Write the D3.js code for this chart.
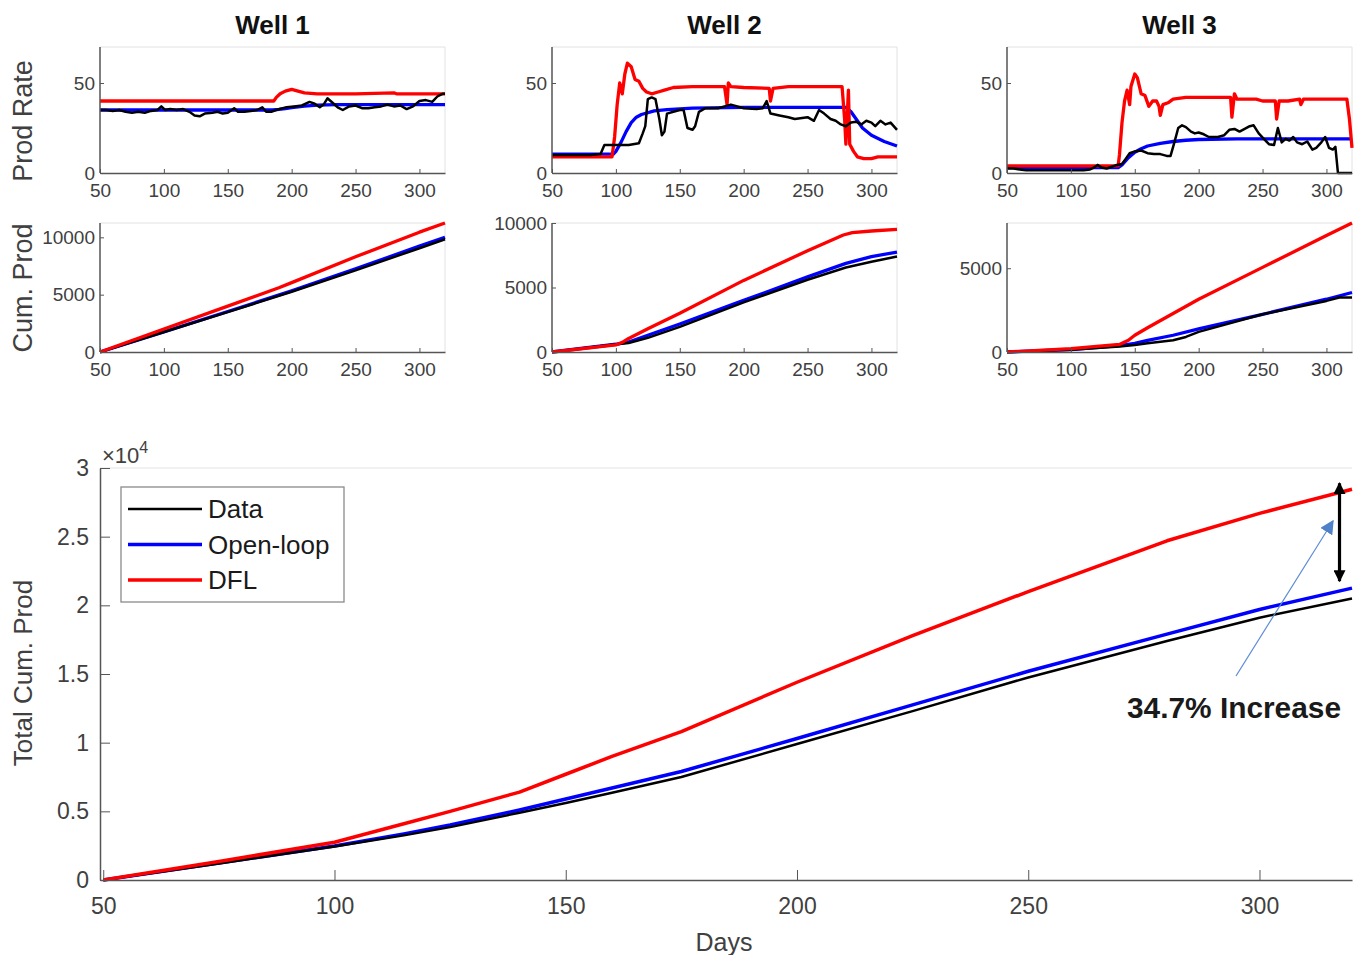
<!DOCTYPE html>
<html>
<head>
<meta charset="utf-8">
<script src="https://cdn.jsdelivr.net/npm/d3@7"></script>
<style>
  body { margin: 0; background: #fff; }
  text { font-family: "Liberation Sans", Arial, sans-serif; }
</style>
</head>
<body>
<svg id="chart" width="1356" height="955"></svg>
<script>
// ---- data ----
const wellNames = ['Well 1', 'Well 2', 'Well 3'];
const seriesNames = ['Data', 'Open-loop', 'DFL'];
const seriesColors = ['#000000', '#0000ff', '#ff0000'];
const dayTicks = [50, 100, 150, 200, 250, 300];
const rateTicks = [0, 50];
const cumTicks = [[0, 5000, 10000], [0, 5000, 10000], [0, 5000]];
const cumMax = [11250, 10000, 7700];
const totalTicks = [0, 5000, 10000, 15000, 20000, 25000, 30000];

// production rate, [day, rate]
const w1RateData = [[50,35],[55,35],[60,34.5],[65,35],[70,34],[75,33.5],[80,34],[85,33.5],[90,34.5],[95,35],[98,37],[101,35],[105,35.5],[110,35],[115,35.5],[120,34],[124,32],[128,31.5],[132,33],[138,33.5],[142,34],[146,33],[150,33.5],[155,36],[158,34],[163,34],[168,34.5],[173,35],[177,36.5],[180,34],[184,34],[190,35.5],[196,36.5],[202,37],[208,37.5],[214,39.5],[218,38.5],[222,36.5],[225,38],[228,41.5],[232,39],[236,36.5],[240,35],[245,37],[250,37.5],[255,36],[260,36],[265,36.5],[270,37],[275,38],[280,37],[285,37.5],[290,35.5],[295,37],[300,40],[305,40.5],[310,39.5],[314,42.5],[318,44],[320,44]];
const w1RateOpen = [[50,35],[185,35],[190,35.3],[195,35.8],[200,36.3],[210,37.2],[220,37.7],[235,38],[320,38]];
const w1RateDfl = [[50,40],[186,40],[188,42],[191,44],[195,45.5],[200,46.5],[205,45.5],[210,44.5],[220,44],[250,44],[280,44.5],[282,44],[320,44]];

const w2RateData = [[50,10],[60,10],[70,10],[80,10],[88,10.5],[91,15.5],[100,15.5],[110,15.5],[118,16.5],[121,22],[123,26],[125,41],[128,42],[131,41],[134,30],[136,21],[138,23],[140,33],[145,34],[150,35],[153,35],[156,25],[160,24],[162,26],[165,34],[170,36],[180,36],[185,37],[190,38],[195,37],[200,36],[210,35.5],[215,36],[218,40],[221,33],[228,32],[235,31],[240,30],[250,31],[255,29],[259,35],[263,33],[268,30],[272,29],[276,27],[280,26],[284,28],[288,28.5],[292,27],[296,29],[300,28],[303,26],[307,29],[311,27],[315,28],[320,24]];
const w2RateOpen = [[50,10.5],[98,10.5],[100,12],[104,17],[108,23],[112,28],[116,31],[120,32.5],[130,34.5],[140,35.2],[160,36],[200,36.5],[280,36.5],[284,34],[288,30],[293,25],[300,21],[310,17.5],[320,15]];
const w2RateDfl = [[50,9],[97,9],[99,20],[101,38],[103,50],[105,44],[107,55],[109,61],[112,59],[115,52],[118,51],[121,47],[124,45],[128,44],[133,45],[138,46],[145,47.5],[160,48],[185,48],[187,38],[188,50],[190,48],[200,47.5],[220,47],[221,40],[223,47],[235,48],[260,48],[277,48],[279,30],[280,16],[282,46],[283,16],[286,12],[289,9],[294,8],[300,8],[305,9],[320,9]];

const w3RateData = [[50,2.5],[55,2.5],[60,2],[65,1.5],[80,1.5],[100,1.5],[110,1.5],[115,2],[118,3],[121,4.5],[124,3],[128,2.5],[132,3.5],[136,4.5],[140,5],[143,8],[146,11],[150,12],[155,12.5],[160,11],[165,10.5],[170,10.5],[175,9.5],[178,9.5],[181,17],[184,25],[187,26.5],[190,25.5],[194,23],[197,22],[200,22.5],[204,21.5],[208,20],[215,20],[220,21],[224,24],[228,24.5],[232,23],[236,24.5],[240,26],[243,26.5],[247,22],[251,19],[255,16],[259,15.5],[262,25],[265,17],[268,19],[271,18],[274,20],[277,17],[281,16],[285,17.5],[289,13],[292,14],[296,17],[299,20],[302,14],[305,13],[307,14.5],[309,0],[320,0]];
const w3RateOpen = [[50,3],[137,3],[140,4.5],[145,8.5],[150,11.5],[155,13.5],[160,15],[170,16.5],[180,17.5],[190,18.2],[200,18.6],[230,19],[320,19]];
const w3RateDfl = [[50,4],[137,4],[138,10],[140,28],[142,40],[144,46],[146,38],[147,48],[150,55],[152,53],[155,44],[158,43],[161,37],[164,40],[167,40],[169,37],[170,32],[172,38],[176,39],[180,41],[190,42],[225,42],[226,31],[228,44],[230,41],[245,41],[250,40],[260,40],[261,30],[263,40],[270,40],[279,41],[280,38],[282,41],[316,41],[318,30],[320,14]];

// cumulative production per well, [day, value]
const w1CumData = [[50,0],[100,1740],[150,3480],[200,5250],[250,7120],[300,9050],[320,9830]];
const w1CumOpen = [[50,0],[100,1760],[150,3530],[200,5330],[250,7250],[300,9230],[320,10000]];
const w1CumDfl = [[50,0],[100,2000],[150,4000],[190,5600],[200,6050],[250,8300],[300,10450],[320,11250]];

const w2CumData = [[50,0],[100,600],[110,700],[125,1100],[150,1950],[200,3850],[250,5600],[280,6550],[300,7000],[320,7400]];
const w2CumOpen = [[50,0],[100,600],[110,780],[125,1300],[150,2170],[200,4000],[250,5820],[280,6870],[300,7400],[320,7750]];
const w2CumDfl = [[50,0],[100,550],[105,750],[110,1050],[125,1800],[150,3000],[200,5550],[250,7850],[278,9070],[285,9250],[300,9380],[320,9500]];

const w3CumData = [[50,0],[100,130],[138,330],[150,420],[160,520],[180,700],[190,900],[200,1200],[250,2250],[300,3050],[310,3250],[320,3250]];
const w3CumOpen = [[50,0],[100,150],[138,380],[150,520],[160,700],[180,1000],[200,1380],[250,2250],[300,3150],[320,3550]];
const w3CumDfl = [[50,0],[100,200],[138,450],[145,700],[150,1000],[160,1450],[200,3150],[250,5050],[300,6950],[320,7700]];

// total cumulative production, [day, value]
const totalData = [[50,0],[75,1200],[100,2440],[115,3250],[125,3850],[140,4900],[150,5600],[160,6350],[175,7500],[200,9900],[225,12300],[250,14750],[280,17400],[300,19100],[320,20500]];
const totalOpen = [[50,0],[75,1230],[100,2480],[115,3350],[125,4000],[140,5100],[150,5900],[160,6700],[175,7900],[200,10300],[225,12750],[250,15200],[280,17900],[300,19700],[320,21250]];
const totalDfl = [[50,0],[75,1350],[100,2750],[115,4100],[125,5000],[140,6400],[150,7700],[160,9000],[175,10800],[200,14400],[225,17800],[250,21000],[280,24700],[300,26700],[320,28450]];

const rates = [[w1RateData, w1RateOpen, w1RateDfl], [w2RateData, w2RateOpen, w2RateDfl], [w3RateData, w3RateOpen, w3RateDfl]];
const cums = [[w1CumData, w1CumOpen, w1CumDfl], [w2CumData, w2CumOpen, w2CumDfl], [w3CumData, w3CumOpen, w3CumDfl]];
const totals = [totalData, totalOpen, totalDfl];

// ---- layout ----
const svg = d3.select('#chart');
const axisColor = '#555';
const labelColor = '#404040';
const panelLeft = [100, 552, 1007];
const panelWidth = 345;
const rateBox = { top: 47, bottom: 173 };
const cumBox = { top: 223, bottom: 352 };

// draws one small panel (rate or cum)
function smallPanel(i, box, yDomain, yTicks, series, order) {
  const x = d3.scaleLinear().domain([50, 320]).range([panelLeft[i], panelLeft[i] + panelWidth]);
  const y = d3.scaleLinear().domain(yDomain).range([box.bottom, box.top]);
  const g = svg.append('g');

  // light top/right frame
  g.append('path')
   .attr('d', `M${x.range()[0]},${box.top}H${x.range()[1]}V${box.bottom}`)
   .attr('fill', 'none').attr('stroke', '#e2e2e2').attr('stroke-width', 1);

  const line = d3.line().x(d => x(d[0])).y(d => y(d[1]));
  order.forEach(k => {
    g.append('path')
     .datum(series[k])
     .attr('d', line)
     .attr('fill', 'none')
     .attr('stroke', seriesColors[k])
     .attr('stroke-width', k === 0 ? 2.5 : 3.3)
     .attr('stroke-linejoin', 'round');
  });

  const xAxis = g.append('g')
    .attr('transform', `translate(0,${box.bottom})`)
    .call(d3.axisBottom(x).tickValues(dayTicks).tickSize(-4).tickPadding(11).tickSizeOuter(0));
  const yAxis = g.append('g')
    .attr('transform', `translate(${panelLeft[i]},0)`)
    .call(d3.axisLeft(y).tickValues(yTicks).tickSize(-4).tickPadding(5).tickSizeOuter(0)
          .tickFormat(d3.format('d')));

  [xAxis, yAxis].forEach(a => {
    a.select('.domain').attr('stroke', axisColor).attr('stroke-width', 1.5);
    a.selectAll('.tick line').attr('stroke', axisColor);
    a.selectAll('.tick text').attr('fill', labelColor).attr('font-size', 19)
     .attr('font-family', '"Liberation Sans", Arial, sans-serif');
  });
  // extend y axis line to the box top
  yAxis.select('.domain').attr('d', `M0,${box.top}V${box.bottom}`);
}

wellNames.forEach((name, i) => {
  svg.append('text')
     .attr('x', panelLeft[i] + panelWidth / 2)
     .attr('y', 34)
     .attr('text-anchor', 'middle')
     .attr('font-size', 26)
     .attr('font-weight', 'bold')
     .attr('fill', '#111')
     .text(name);

  smallPanel(i, rateBox, [0, 70], rateTicks, rates[i], [1, 2, 0]);
  smallPanel(i, cumBox, [0, cumMax[i]], cumTicks[i], cums[i], [1, 0, 2]);
});

// y labels of the top rows
[['Prod Rate', 121], ['Cum. Prod', 288]].forEach(([t, cy]) => {
  svg.append('text')
     .attr('transform', `translate(32,${cy}) rotate(-90)`)
     .attr('text-anchor', 'middle')
     .attr('font-size', 27)
     .attr('fill', labelColor)
     .text(t);
});

// ---- bottom chart ----
const bx = d3.scaleLinear().domain([49.3, 320]).range([100, 1352]);
const by = d3.scaleLinear().domain([0, 30000]).range([880, 468]);
const bg = svg.append('g');

bg.append('path')
  .attr('d', `M100,468H1352`)
  .attr('stroke', '#e2e2e2').attr('stroke-width', 1);

const bLine = d3.line().x(d => bx(d[0])).y(d => by(d[1]));
[1, 0, 2].forEach(k => {
  bg.append('path')
    .datum(totals[k])
    .attr('d', bLine)
    .attr('fill', 'none')
    .attr('stroke', seriesColors[k])
    .attr('stroke-width', k === 0 ? 2.5 : 3.5)
    .attr('stroke-linejoin', 'round');
});

const bxAxis = bg.append('g')
  .attr('transform', 'translate(0,880)')
  .call(d3.axisBottom(bx).tickValues(dayTicks).tickSize(-10).tickPadding(18).tickSizeOuter(0));
const byAxis = bg.append('g')
  .attr('transform', 'translate(100,0)')
  .call(d3.axisLeft(by).tickValues(totalTicks).tickSize(-10).tickPadding(11).tickSizeOuter(0)
        .tickFormat(d => d3.format('~g')(d / 10000)));
[bxAxis, byAxis].forEach(a => {
  a.select('.domain').attr('stroke', axisColor).attr('stroke-width', 1.5);
  a.selectAll('.tick line').attr('stroke', axisColor);
  a.selectAll('.tick text').attr('fill', labelColor).attr('font-size', 23)
   .attr('font-family', '"Liberation Sans", Arial, sans-serif');
});

// exponent label
const expo = bg.append('text').attr('x', 102).attr('y', 463).attr('fill', labelColor).attr('font-size', 22);
expo.append('tspan').text('\u00d710');
expo.append('tspan').attr('dy', -10).attr('font-size', 16).text('4');

bg.append('text')
  .attr('transform', 'translate(32,673) rotate(-90)')
  .attr('text-anchor', 'middle')
  .attr('font-size', 26)
  .attr('fill', labelColor)
  .text('Total Cum. Prod');

bg.append('text')
  .attr('x', 724).attr('y', 951)
  .attr('text-anchor', 'middle')
  .attr('font-size', 25)
  .attr('fill', labelColor)
  .text('Days');

// legend
const legend = bg.append('g').attr('transform', 'translate(121,487)');
legend.append('rect')
  .attr('width', 223).attr('height', 115)
  .attr('fill', '#fff').attr('stroke', '#8a8a8a').attr('stroke-width', 1.3);
seriesNames.forEach((name, k) => {
  const yy = 22 + k * 35.5;
  legend.append('line')
    .attr('x1', 7).attr('x2', 81).attr('y1', yy).attr('y2', yy)
    .attr('stroke', seriesColors[k]).attr('stroke-width', k === 0 ? 2.5 : 3.5);
  legend.append('text')
    .attr('x', 87).attr('y', yy + 9)
    .attr('font-size', 26)
    .attr('fill', '#1a1a1a')
    .text(name);
});

// annotation
const defs = svg.append('defs');
defs.append('marker').attr('id', 'headBlack')
  .attr('viewBox', '0 0 10 10').attr('refX', 9).attr('refY', 5)
  .attr('markerWidth', 13).attr('markerHeight', 12).attr('markerUnits', 'userSpaceOnUse')
  .attr('orient', 'auto-start-reverse')
  .append('path').attr('d', 'M0,0L10,5L0,10z').attr('fill', '#000');
defs.append('marker').attr('id', 'headBlue')
  .attr('viewBox', '0 0 10 10').attr('refX', 9).attr('refY', 5)
  .attr('markerWidth', 14).attr('markerHeight', 14).attr('markerUnits', 'userSpaceOnUse')
  .attr('orient', 'auto')
  .append('path').attr('d', 'M0,0L10,5L0,10z').attr('fill', '#4f81c9');

const arrowX = bx(317.3);
bg.append('line')
  .attr('x1', arrowX).attr('x2', arrowX)
  .attr('y1', by(28450) - 6).attr('y2', by(21250) - 7)
  .attr('stroke', '#000').attr('stroke-width', 3.2)
  .attr('marker-start', 'url(#headBlack)').attr('marker-end', 'url(#headBlack)');

bg.append('line')
  .attr('x1', 1236).attr('y1', 676).attr('x2', 1333).attr('y2', 521)
  .attr('stroke', '#5b8bd5').attr('stroke-width', 1.2)
  .attr('marker-end', 'url(#headBlue)');

bg.append('text')
  .attr('x', 1234).attr('y', 718)
  .attr('text-anchor', 'middle')
  .attr('font-family', '"Open Sans", "Noto Sans", sans-serif')
  .attr('font-weight', 'bold')
  .attr('font-size', 29)
  .attr('textLength', 214)
  .attr('lengthAdjust', 'spacingAndGlyphs')
  .attr('fill', '#1a1a1a')
  .text('34.7% Increase');
</script>
</body>
</html>
